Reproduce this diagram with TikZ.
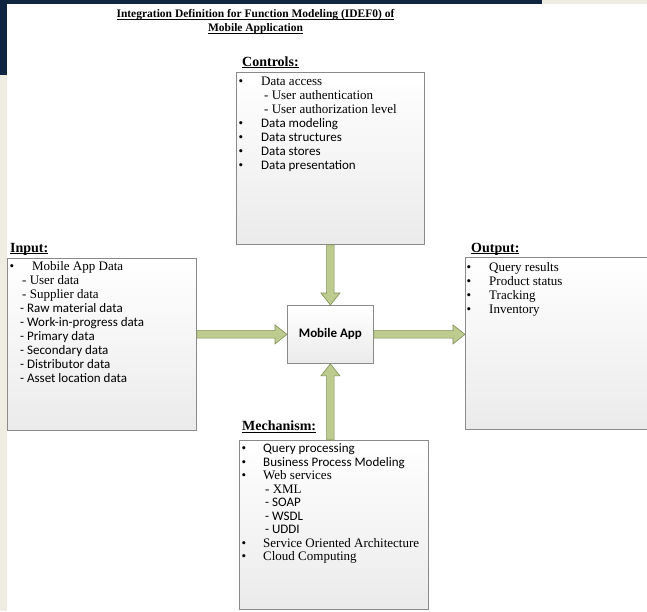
\documentclass[tikz,border=0pt]{standalone}
\usepackage{fontspec}
\setmainfont{Liberation Serif}
\newfontfamily\calib{Carlito}
\usetikzlibrary{calc}
\definecolor{navy}{HTML}{0F2542}
\definecolor{beige}{HTML}{EFECE2}
\definecolor{arrfill}{HTML}{BDCB8F}
\definecolor{arrdraw}{HTML}{7F8F55}
\definecolor{boxdraw}{HTML}{8A8A8A}
\newcommand\bul[1]{\makebox[#1][l]{\textbullet}}
\newcommand\ul[1]{\underline{\smash{#1}}}
\begin{document}
\begin{tikzpicture}[x=1pt,y=-1pt,
  box/.style={draw=boxdraw, line width=0.8pt, top color=white, bottom color=black!8,
              anchor=north west, inner sep=0pt},
  items/.style={anchor=north west, inner sep=0pt, align=left, font=\fontsize{13}{14}\selectfont},
  lbl/.style={anchor=base west, inner sep=0pt, font=\bfseries\fontsize{14}{16}\selectfont},
  ttl/.style={anchor=base, inner sep=0pt, font=\bfseries\fontsize{11.5}{14}\selectfont},
  arr/.style={fill=arrfill, draw=arrdraw, line width=0.6pt, line join=miter}]
\clip (0,0) rectangle (647,611);
\fill[white] (0,0) rectangle (647,611);
\fill[navy] (0,0) rectangle (542,4);
\fill[navy] (0,0) rectangle (7,75);
\fill[beige] (0,75) rectangle (7,611);
\fill[beige] (542,0) rectangle (647,4);

% title
\node[ttl] (title1) at (255.5,17.3) {\ul{Integration Definition for Function Modeling (IDEF0) of}};
\node[ttl] (title2) at (255.5,31.3) {\ul{Mobile Application}};

% labels
\node[lbl] (lctl) at (242,66) {\ul{Controls:}};
\node[lbl] (lin) at (10,252) {\ul{Input:}};
\node[lbl] (lout) at (471,252) {\ul{Output:}};
\node[lbl] (lmech) at (242,430.7) {\ul{Mechanism:}};

% boxes
\node[box, minimum width=188pt, minimum height=172pt] (ctl) at (236,72) {};
\node[box, minimum width=189pt, minimum height=172pt] (in) at (7,258) {};
\node[box, minimum width=200pt, minimum height=172pt] (out) at (465,257) {};
\node[box, minimum width=189pt, minimum height=169pt] (mech) at (239,440) {};
\node[box, minimum width=86pt, minimum height=58pt,
      font=\calib\bfseries\fontsize{13}{15}\selectfont] (app) at (287,305) {Mobile App};

% box texts
\node[items] (ctltext) at (238.5,75.2) {%
\strut\bul{22.5pt}Data access\\
\strut\hspace{25.5pt}- User authentication\\
\strut\hspace{25.5pt}- User authorization level\\
\strut\bul{22.5pt}{\calib Data modeling}\\
\strut\bul{22.5pt}{\calib Data structures}\\
\strut\bul{22.5pt}{\calib Data stores}\\
\strut\bul{22.5pt}{\calib Data presentation}};

\node[items] (intext) at (9.5,260.7) {%
\strut\bul{22.5pt}Mobile App Data\\
\strut\hspace{12.5pt}- User data\\
\strut\hspace{12.5pt}- Supplier data\\
\strut\hspace{10.5pt}{\calib - Raw material data}\\
\strut\hspace{10.5pt}{\calib - Work-in-progress data}\\
\strut\hspace{10.5pt}{\calib - Primary data}\\
\strut\hspace{10.5pt}{\calib - Secondary data}\\
\strut\hspace{10.5pt}{\calib - Distributor data}\\
\strut\hspace{10.5pt}{\calib - Asset location data}};

\node[items] (outtext) at (466.5,261.7) {%
\strut\bul{22.5pt}Query results\\
\strut\bul{22.5pt}Product status\\
\strut\bul{22.5pt}Tracking\\
\strut\bul{22.5pt}Inventory};

\node[items, font=\fontsize{13}{13.5}\selectfont] (mechtext) at (241.5,443.3) {%
\strut\bul{21.5pt}{\calib Query processing}\\
\strut\bul{21.5pt}{\calib Business Process Modeling}\\
\strut\bul{21.5pt}Web services\\
\strut\hspace{23.5pt}- XML\\
\strut\hspace{23.5pt}{\calib - SOAP}\\
\strut\hspace{23.5pt}{\calib - WSDL}\\
\strut\hspace{23.5pt}{\calib - UDDI}\\
\strut\bul{21.5pt}Service Oriented Architecture\\
\strut\bul{21.5pt}Cloud Computing};

% arrows
\draw[arr] ($(in.east |- app.west)+(0,3.75)$) -- ($(app.west)+(-12,3.75)$)
  -- ($(app.west)+(-12,9.5)$) -- (app.west) -- ($(app.west)+(-12,-9.5)$)
  -- ($(app.west)+(-12,-3.75)$) -- ($(in.east |- app.west)+(0,-3.75)$) -- cycle;
\draw[arr] ($(app.east)+(0,3.75)$) -- ($(out.west |- app.east)+(-12,3.75)$)
  -- ($(out.west |- app.east)+(-12,9.5)$) -- (out.west |- app.east)
  -- ($(out.west |- app.east)+(-12,-9.5)$) -- ($(out.west |- app.east)+(-12,-3.75)$)
  -- ($(app.east)+(0,-3.75)$) -- cycle;
\draw[arr] ($(app.north |- ctl.south)+(3.75,0)$) -- ($(app.north)+(3.75,-12)$)
  -- ($(app.north)+(9.5,-12)$) -- (app.north) -- ($(app.north)+(-9.5,-12)$)
  -- ($(app.north)+(-3.75,-12)$) -- ($(app.north |- ctl.south)+(-3.75,0)$) -- cycle;
\draw[arr] ($(app.south |- mech.north)+(3.75,0)$) -- ($(app.south)+(3.75,12)$)
  -- ($(app.south)+(9.5,12)$) -- (app.south) -- ($(app.south)+(-9.5,12)$)
  -- ($(app.south)+(-3.75,12)$) -- ($(app.south |- mech.north)+(-3.75,0)$) -- cycle;
\end{tikzpicture}
\end{document}
